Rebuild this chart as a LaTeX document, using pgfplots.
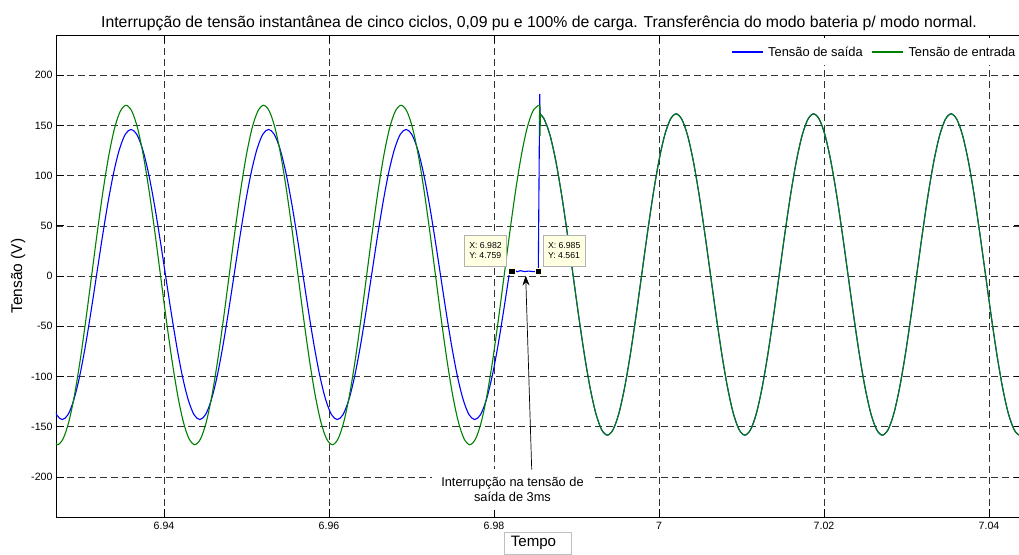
\documentclass[border=0pt]{standalone}
\usepackage{fontspec}
\setmainfont{Liberation Sans}
\usepackage{pgfplots}
\pgfplotsset{compat=1.18}
\usepackage{pgfplotstable}
\usetikzlibrary{arrows.meta}
\definecolor{mblue}{RGB}{0,0,255}
\definecolor{mgreen}{RGB}{0,128,0}
\definecolor{tipfill}{RGB}{255,255,225}

% tensao de entrada, antes da transferencia
\pgfplotstableread{
t v
6.926376 -162.2
6.927070 -168.0
6.927764 -162.2
6.928459 -145.4
6.929153 -118.5
6.929848 -83.5
6.930542 -42.7
6.931237 1.0
6.931931 44.7
6.932626 85.5
6.933320 120.5
6.934014 147.4
6.934709 164.2
6.935403 170.0
6.936098 164.2
6.936792 147.4
6.937487 120.5
6.938181 85.5
6.938876 44.7
6.939570 1.0
6.940264 -42.7
6.940959 -83.5
6.941653 -118.5
6.942348 -145.4
6.943042 -162.2
6.943737 -168.0
6.944431 -162.2
6.945126 -145.4
6.945820 -118.5
6.946515 -83.5
6.947209 -42.7
6.947904 1.0
6.948598 44.7
6.949293 85.5
6.949987 120.5
6.950681 147.4
6.951376 164.2
6.952070 170.0
6.952765 164.2
6.953459 147.4
6.954154 120.5
6.954848 85.5
6.955543 44.7
6.956237 1.0
6.956931 -42.7
6.957626 -83.5
6.958320 -118.5
6.959015 -145.4
6.959709 -162.2
6.960404 -168.0
6.961098 -162.2
6.961793 -145.4
6.962487 -118.5
6.963182 -83.5
6.963876 -42.7
6.964571 1.0
6.965265 44.7
6.965960 85.5
6.966654 120.5
6.967348 147.4
6.968043 164.2
6.968737 170.0
6.969432 164.2
6.970126 147.4
6.970821 120.5
6.971515 85.5
6.972210 44.7
6.972904 1.0
6.973598 -42.7
6.974293 -83.5
6.974987 -118.5
6.975682 -145.4
6.976376 -162.2
6.977071 -168.0
6.977765 -162.2
6.978460 -145.4
6.979154 -118.5
6.979849 -83.5
6.980543 -42.7
6.981238 1.0
6.981932 44.7
6.982627 85.5
6.983321 120.5
6.984015 147.4
6.984710 164.2
6.985404 170.0
}\greenpre

% degrau da entrada na transferencia
\pgfplotstableread{
t v
6.985404 170.0
6.985540 169.8
6.985560 140.0
6.985580 140.0
6.985620 161.0
}\greenstep

% depois da transferencia (entrada = saida)
\pgfplotstableread{
t v
6.985620 161.0
6.986099 156.0
6.986793 140.1
6.987488 114.6
6.988182 81.5
6.988877 42.9
6.989571 1.5
6.990265 -39.9
6.990960 -78.5
6.991654 -111.6
6.992349 -137.1
6.993043 -153.0
6.993738 -158.5
6.994432 -153.0
6.995127 -137.1
6.995821 -111.6
6.996516 -78.5
6.997210 -39.9
6.997905 1.5
6.998599 42.9
6.999294 81.5
6.999988 114.6
7.000682 140.1
7.001377 156.0
7.002071 161.5
7.002766 156.0
7.003460 140.1
7.004155 114.6
7.004849 81.5
7.005544 42.9
7.006238 1.5
7.006932 -39.9
7.007627 -78.5
7.008321 -111.6
7.009016 -137.1
7.009710 -153.0
7.010405 -158.5
7.011099 -153.0
7.011794 -137.1
7.012488 -111.6
7.013183 -78.5
7.013877 -39.9
7.014572 1.5
7.015266 42.9
7.015961 81.5
7.016655 114.6
7.017349 140.1
7.018044 156.0
7.018738 161.5
7.019433 156.0
7.020127 140.1
7.020822 114.6
7.021516 81.5
7.022211 42.9
7.022905 1.5
7.023599 -39.9
7.024294 -78.5
7.024988 -111.6
7.025683 -137.1
7.026377 -153.0
7.027072 -158.5
7.027766 -153.0
7.028461 -137.1
7.029155 -111.6
7.029850 -78.5
7.030544 -39.9
7.031239 1.5
7.031933 42.9
7.032628 81.5
7.033322 114.6
7.034016 140.1
7.034711 156.0
7.035405 161.5
7.036100 156.0
7.036794 140.1
7.037489 114.6
7.038183 81.5
7.038878 42.9
7.039572 1.5
7.040266 -39.9
7.040961 -78.5
7.041655 -111.6
7.042350 -137.1
7.043044 -153.0
7.043739 -158.5
7.044433 -153.0
}\post

% tensao de saida, modo bateria
\pgfplotstableread{
t v
6.926281 -123.6
6.926976 -138.1
6.927670 -143.0
6.928364 -138.1
6.929059 -123.6
6.929753 -100.7
6.930448 -70.8
6.931142 -35.9
6.931837 1.5
6.932531 38.9
6.933226 73.8
6.933920 103.7
6.934614 126.6
6.935309 141.1
6.936003 146.0
6.936698 141.1
6.937392 126.6
6.938087 103.7
6.938781 73.8
6.939476 38.9
6.940170 1.5
6.940864 -35.9
6.941559 -70.8
6.942253 -100.7
6.942948 -123.6
6.943642 -138.1
6.944337 -143.0
6.945031 -138.1
6.945726 -123.6
6.946420 -100.7
6.947115 -70.8
6.947809 -35.9
6.948504 1.5
6.949198 38.9
6.949893 73.8
6.950587 103.7
6.951281 126.6
6.951976 141.1
6.952670 146.0
6.953365 141.1
6.954059 126.6
6.954754 103.7
6.955448 73.8
6.956143 38.9
6.956837 1.5
6.957531 -35.9
6.958226 -70.8
6.958920 -100.7
6.959615 -123.6
6.960309 -138.1
6.961004 -143.0
6.961698 -138.1
6.962393 -123.6
6.963087 -100.7
6.963782 -70.8
6.964476 -35.9
6.965171 1.5
6.965865 38.9
6.966560 73.8
6.967254 103.7
6.967948 126.6
6.968643 141.1
6.969337 146.0
6.970032 141.1
6.970726 126.6
6.971421 103.7
6.972115 73.8
6.972810 38.9
6.973504 1.5
6.974198 -35.9
6.974893 -70.8
6.975587 -100.7
6.976282 -123.6
6.976976 -138.1
6.977671 -143.0
6.978365 -138.1
6.979060 -123.6
6.979754 -100.7
6.980449 -70.8
6.981143 -35.9
6.981838 1.5
}\bluepre

% interrupcao de 3 ms e pico na transferencia
\pgfplotstableread{
t v
6.981838 1.5
6.982150 4.76
6.982500 5.8
6.982800 4.2
6.983200 5.3
6.983700 4.4
6.984200 4.9
6.984800 4.3
6.985370 4.56
6.985540 181.0
6.985580 163.0
6.985620 161.0
}\blueflat

\begin{document}
\begin{tikzpicture}[x=1pt,y=1pt]
\useasboundingbox (-56,-37) rectangle (963,517);
\begin{axis}[
  at={(0,0)}, anchor=south west,
  scale only axis, width=966pt, height=482pt,
  xmin=6.926909, xmax=7.044, ymin=-240, ymax=240,
  xtick={6.94,6.96,6.98,7,7.02,7.04},
  ytick={-200,-150,-100,-50,0,50,100,150,200},
  scaled x ticks=false,
  tick align=inside, major tick length=8pt,
  grid=major,
  major grid style={black!80, dash pattern=on 7pt off 4pt, line width=0.5pt},
  axis line style={line width=0.8pt},
  tick style={black, line width=0.6pt},
  /pgf/number format/assume math mode=true,
  ticklabel style={font=\fontsize{10.6}{12}\selectfont},
  xticklabel style={anchor=base, yshift=-12.3pt},
  title={Interrupção de tensão instantânea de cinco ciclos, 0,09 pu e 100\% de carga. Transferência do modo bateria p/ modo normal.},
  title style={font=\fontsize{15.8}{18}\selectfont, at={(axis description cs:0.5,1)}, anchor=base, yshift=1pt},
  ylabel={Tensão (V)},
  ylabel style={font=\fontsize{15.5}{18}\selectfont, at={(axis description cs:-0.0393,0.5)}, anchor=center},
  xlabel={Tempo\kern8pt\relax},
  xlabel style={font=\fontsize{15.1}{18}\selectfont, at={(axis description cs:0.4984,0)}, anchor=north, yshift=-15.3pt, draw=black!25, fill=white, inner xsep=7pt, inner ysep=4pt},
]
\addplot[mblue, line width=1.1pt, smooth] table[x=t, y=v] {\bluepre};
\addplot[mblue, line width=1.1pt] table[x=t, y=v] {\blueflat};
\addplot[mblue, line width=1.1pt, smooth] table[x=t, y=v] {\post};
\addplot[mgreen, line width=1.1pt, smooth] table[x=t, y=v] {\greenpre};
\addplot[mgreen, line width=1.1pt] table[x=t, y=v] {\greenstep};
\addplot[mgreen, line width=1.1pt, smooth] table[x=t, y=v] {\post};

% datatips
\addplot[only marks, mark=square*, mark size=3.2pt, mark options={fill=black, draw=tipfill, line width=0.5pt}]
  coordinates {(6.98215,4.759) (6.98537,4.561)};
\node[draw=black!30, fill=tipfill, align=left, font=\fontsize{8.7}{10.5}\selectfont, minimum width=42pt, minimum height=31pt, inner sep=2pt]
  at (axis cs:6.97897,25.5) {X: 6.982\\Y: 4.759};
\node[draw=black!30, fill=tipfill, align=left, font=\fontsize{8.7}{10.5}\selectfont, minimum width=42pt, minimum height=31pt, inner sep=2pt]
  at (axis cs:6.98851,25.5) {X: 6.985\\Y: 4.561};

% anotacao
\node[fill=white, align=center, font=\fontsize{12.8}{15}\selectfont, minimum width=161pt, minimum height=41pt, inner sep=0pt]
  at (axis cs:6.98224,-212.6) {Interrupção na tensão de\\saída de 3ms};
\draw[-{Stealth[length=10pt,width=7pt]}, line width=0.7pt] (axis cs:6.98457,-192.7) -- (axis cs:6.98384,0.5);

% legenda (sem moldura, fundo branco)
\fill[white] (axis description cs:0.6925,0.9378) rectangle (axis description cs:1.004,0.9938);
\fill[color=mblue] (axis description cs:0.6995,0.9632) rectangle (axis description cs:0.7316,0.9674);
\fill[color=mgreen] (axis description cs:0.8444,0.9632) rectangle (axis description cs:0.8771,0.9674);
\node[anchor=west, inner sep=0pt, font=\fontsize{12.9}{14}\selectfont] at (axis description cs:0.7370,0.9653) {Tensão de saída};
\node[anchor=west, inner sep=0pt, font=\fontsize{12.9}{14}\selectfont] at (axis description cs:0.8823,0.9653) {Tensão de entrada};
\end{axis}
\end{tikzpicture}
\end{document}
